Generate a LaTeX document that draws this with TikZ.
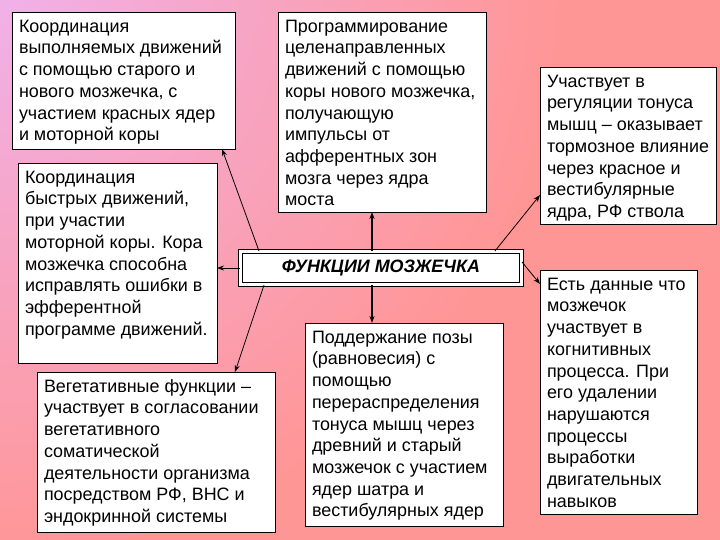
\documentclass[tikz,border=0pt]{standalone}
\usepackage{fontspec}
\setmainfont{Liberation Sans}
\usetikzlibrary{arrows.meta,calc}
\definecolor{bgviolet}{RGB}{240,178,236}
\definecolor{bgsalmon}{RGB}{255,150,150}
\newcommand\bxt[3]{\parbox[c][#2][t]{#1}{\raggedright\fontsize{18}{21.8}\selectfont\strut #3}}
\begin{document}
\begin{tikzpicture}[x=1bp,y=-1bp,
  box/.style={draw=black, line width=0.8pt, fill=white, inner xsep=7bp, inner ysep=5bp, anchor=north west, outer sep=0pt},
  arr/.style={line width=0.8pt, -{Stealth[length=7bp,width=5bp]}},
  arrv/.style={arr, line width=1.6pt},
  titlebox/.style={draw=black, double=white, double distance=2.4bp, line width=1pt, fill=white,
    minimum width=281bp, minimum height=33bp, inner sep=0pt,
    font=\fontsize{18}{20}\selectfont\bfseries\itshape}]
\useasboundingbox (0,0) rectangle (720,540);
\fill[bgsalmon] (0,0) rectangle (720,540);
\begin{scope}
  \clip (0,0) rectangle (720,540);
  \shade[inner color=bgviolet, outer color=bgsalmon] (-20,-20) circle (580bp);
\end{scope}

\node[box] (b1) at (12,12) {\bxt{209bp}{127bp}{Координация\\ выполняемых движений\\ с помощью старого и\\ нового мозжечка, с\\ участием красных ядер\\ и моторной коры}};
\node[box] (b2) at (278,12) {\bxt{194bp}{190bp}{Программирование\\ целенаправленных\\ движений с помощью\\ коры нового мозжечка,\\ получающую\\ импульсы от\\ афферентных зон\\ мозга через ядра\\ моста}};
\node[box] (b3) at (540,67) {\bxt{162bp}{147bp}{Участвует в\\ регуляции тонуса\\ мышц – оказывает\\ тормозное влияние\\ через красное и\\ вестибулярные\\ ядра, РФ ствола}};
\node[box] (b4) at (18,163) {\bxt{185bp}{190bp}{Координация\\ быстрых движений,\\ при участии\\ моторной коры. Кора\\ мозжечка способна\\ исправлять ошибки в\\ эфферентной\\ программе движений.}};
\node[box] (b5) at (37,372) {\bxt{224bp}{150bp}{Вегетативные функции –\\ участвует в согласовании\\ вегетативного\\ соматической\\ деятельности организма\\ посредством РФ, ВНС и\\ эндокринной системы}};
\node[box] (b6) at (305,323) {\bxt{184bp}{193bp}{Поддержание позы\\ (равновесия) с\\ помощью\\ перераспределения\\ тонуса мышц через\\ древний и старый\\ мозжечок с участием\\ ядер шатра и\\ вестибулярных ядер}};
\node[box] (b7) at (540,270) {\bxt{143bp}{234bp}{Есть данные что\\ мозжечок\\ участвует в\\ когнитивных\\ процесса. При\\ его удалении\\ нарушаются\\ процессы\\ выработки\\ двигательных\\ навыков}};

\node[titlebox] (F) at (381,268) {ФУНКЦИИ МОЗЖЕЧКА};

\coordinate (vx) at (372,0);
\draw[arr] ([xshift=19bp]F.north west) -- ([xshift=-13bp]b1.south east);
\draw[arrv] (F.north -| vx) -- (b2.south -| vx);
\draw[arr] ([xshift=-27bp]F.north east) -- ([yshift=29bp]b3.south west);
\draw[arr] (F.west) -- (b4.east |- F.west);
\draw[arr] ([xshift=24bp]F.south west) -- ([xshift=-40bp]b5.north east);
\draw[arrv] (F.south -| vx) -- (b6.north -| vx);
\draw[arr] ([yshift=6bp]F.east) -- ([yshift=-14bp]b7.north west);
\end{tikzpicture}
\end{document}
